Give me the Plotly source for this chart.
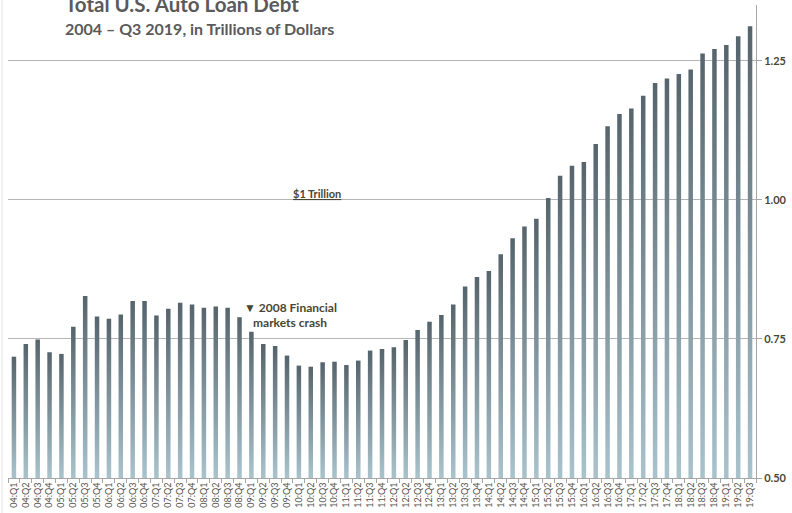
import plotly.graph_objects as go

# Quarterly labels 04:Q1 .. 19:Q3
years = list(range(4, 20))
quarters = []
for yr in years:
    for q in range(1, 5):
        if yr == 19 and q > 3:
            break
        quarters.append(f"{yr:02d}:Q{q}")

# Total auto loan balance, trillions of dollars
debt = [
    0.718, 0.741, 0.749, 0.726,
    0.723, 0.772, 0.827, 0.790,
    0.786, 0.794, 0.818, 0.818,
    0.792, 0.804, 0.815, 0.812,
    0.806, 0.808, 0.806, 0.789,
    0.763, 0.741, 0.737, 0.720,
    0.702, 0.700, 0.708, 0.709,
    0.703, 0.711, 0.729, 0.732,
    0.735, 0.748, 0.766, 0.781,
    0.793, 0.812, 0.844, 0.861,
    0.872, 0.902, 0.931, 0.952,
    0.966, 1.003, 1.043, 1.061,
    1.068, 1.100, 1.132, 1.154,
    1.164, 1.187, 1.210, 1.218,
    1.226, 1.234, 1.263, 1.271,
    1.278, 1.294, 1.312,
]

y_ticks = [0.50, 0.75, 1.00, 1.25]
y_tick_text = ["0.50", "0.75", "1.00", "1.25"]
y_min, y_max = 0.50, 1.35

BAR_HALF = 0.19
TEXT_COLOR = "#4a4634"
GRID_COLOR = "#b5b5b5"

fig = go.Figure()

# Each bar is a filled rectangle with a vertical gradient (light base, dark top)
for i, (lab, v) in enumerate(zip(quarters, debt)):
    fig.add_trace(go.Scatter(
        x=[i - BAR_HALF, i + BAR_HALF, i + BAR_HALF, i - BAR_HALF, i - BAR_HALF],
        y=[y_min, y_min, v, v, y_min],
        mode="lines",
        line=dict(width=0),
        fill="toself",
        fillgradient=dict(
            type="vertical",
            colorscale=[[0, "#a9c3cd"], [1, "#56646c"]],
        ),
        hoverinfo="text",
        text=f"{lab}: {v:.3f}",
        showlegend=False,
    ))

n = len(quarters)
fig.update_layout(
    width=792,
    height=513,
    margin=dict(l=8, r=32, t=5, b=35),
    paper_bgcolor="white",
    plot_bgcolor="white",
    font=dict(family="Lato", color=TEXT_COLOR),
    xaxis=dict(
        range=[-0.5, n - 0.5],
        tickmode="array",
        tickvals=list(range(n)),
        ticktext=quarters,
        tickangle=-90,
        tickfont=dict(size=9, color="#55524a", family="Lato"),
        ticks="",
        showgrid=False,
        zeroline=False,
        showline=True,
        linecolor="#a6a6a6",
        linewidth=1,
        minor=dict(
            tickmode="array",
            tickvals=[i - 0.5 for i in range(n + 1)],
            ticks="outside",
            ticklen=4,
            tickcolor="#a6a6a6",
            showgrid=False,
        ),
        fixedrange=True,
    ),
    yaxis=dict(
        side="right",
        range=[y_min, y_max],
        tickmode="array",
        tickvals=y_ticks,
        ticktext=y_tick_text,
        tickfont=dict(size=11, color=TEXT_COLOR, family="Lato", weight="bold"),
        ticks="outside",
        ticklen=5,
        tickcolor="#a6a6a6",
        showgrid=True,
        gridcolor=GRID_COLOR,
        gridwidth=1,
        zeroline=False,
        showline=True,
        linecolor="#a6a6a6",
        linewidth=1,
        fixedrange=True,
    ),
    shapes=[
        dict(type="line", xref="paper", yref="paper",
             x0=-0.008, x1=-0.008, y0=-0.08, y1=1.02,
             line=dict(color="#e2e2e2", width=1)),
    ],
)

# Titles
fig.add_annotation(
    text="<b>Total U.S. Auto Loan Debt</b>",
    xref="paper", yref="paper", x=0.074, y=1.003,
    xanchor="left", yanchor="middle", showarrow=False,
    font=dict(size=20.5, color="#5a5a5a", family="Lato"),
)
fig.add_annotation(
    text="<b>2004 – Q3 2019, in Trillions of Dollars</b>",
    xref="paper", yref="paper", x=0.074, y=0.951,
    xanchor="left", yanchor="middle", showarrow=False,
    font=dict(size=16, color="#5a5a5a", family="Lato"),
)

# Reference notes
fig.add_annotation(
    text="<b><u>$1 Trillion</u></b>",
    x=25.5, y=1.011, xref="x", yref="y",
    xanchor="center", yanchor="middle", showarrow=False,
    font=dict(size=11, color=TEXT_COLOR, family="Lato"),
)
fig.add_annotation(
    text="<b>▼ 2008 Financial</b>",
    x=19.18, y=0.807, xref="x", yref="y",
    xanchor="left", yanchor="middle", showarrow=False,
    font=dict(size=12, color=TEXT_COLOR, family="Lato"),
)
fig.add_annotation(
    text="<b>markets crash</b>",
    x=19.95, y=0.7795, xref="x", yref="y",
    xanchor="left", yanchor="middle", showarrow=False,
    font=dict(size=12, color=TEXT_COLOR, family="Lato"),
)

fig.write_html("out.html")
